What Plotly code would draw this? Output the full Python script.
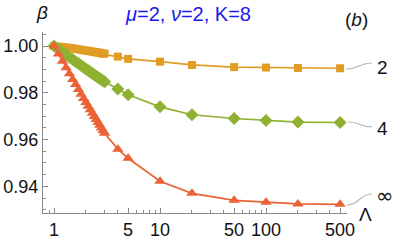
import plotly.graph_objects as go

# ---- data ----
lam_dense = [1.0, 1.1, 1.2, 1.3, 1.4, 1.5, 1.6, 1.7, 1.8, 1.9, 2.0,
             2.1, 2.2, 2.3, 2.4, 2.5, 2.6, 2.7, 2.8, 2.9, 3.0]
lam_sparse = [4, 5, 10, 20, 50, 100, 200, 500]
lam = lam_dense + lam_sparse

beta_2 = [1.0000, 0.9998, 0.9996, 0.9994, 0.9992, 0.9990, 0.9988, 0.9986, 0.9984, 0.9982, 0.9981,
          0.9979, 0.9978, 0.9976, 0.9975, 0.9973, 0.9972, 0.9971, 0.9969, 0.9968, 0.9967,
          0.9955, 0.9945, 0.9933, 0.9919, 0.9910, 0.9908, 0.9906, 0.9905]
beta_4 = [1.0000, 0.9986, 0.9974, 0.9963, 0.9952, 0.9942, 0.9933, 0.9925, 0.9917, 0.9909, 0.9902,
          0.9895, 0.9889, 0.9883, 0.9877, 0.9871, 0.9866, 0.9861, 0.9856, 0.9851, 0.9847,
          0.9816, 0.9792, 0.9740, 0.9706, 0.9690, 0.9682, 0.9675, 0.9673]
beta_inf = [1.0000, 0.9966, 0.9935, 0.9907, 0.9881, 0.9857, 0.9835, 0.9814, 0.9794, 0.9776, 0.9759,
            0.9743, 0.9728, 0.9713, 0.9699, 0.9686, 0.9673, 0.9661, 0.9649, 0.9638, 0.9627,
            0.9559, 0.9520, 0.9422, 0.9370, 0.9340, 0.9332, 0.9325, 0.9323]

x_ticks = [1, 5, 10, 50, 100, 500]
x_ticklabels = ["1", "5", "10", "50", "100", "500"]
y_ticks = [0.94, 0.96, 0.98, 1.00]
y_ticklabels = ["0.94", "0.96", "0.98", "1.00"]
series_labels = ["2", "4", "∞"]

# ---- styling ----
ORANGE = "#E19C24"
GREEN = "#8FB131"
RED = "#EB6235"
W, H = 407, 241
L, R, T, B = 43, 60, 32, 28
PW, PH = W - L - R, H - T - B
FONT = "Liberation Sans, Arial, sans-serif"
TXT = "#111"


def px(x):
    return (x - L) / PW


def py(y):
    return (H - B - y) / PH


fig = go.Figure()
for ys, col, sym, sz in [(beta_2, ORANGE, "square", 8),
                         (beta_4, GREEN, "diamond", 10),
                         (beta_inf, RED, "triangle-up", 10)]:
    fig.add_trace(go.Scatter(x=lam, y=ys, mode="lines+markers",
                             line=dict(color=col, width=1.7),
                             marker=dict(symbol=sym, size=sz, color=col, line=dict(width=0)),
                             cliponaxis=False, showlegend=False, hoverinfo="skip"))

minor_x = [0.8, 0.9, 2, 3, 4, 6, 7, 8, 9, 20, 30, 40, 60, 70, 80, 90, 200, 300, 400]
fig.update_xaxes(type="log", range=[-0.104, 2.764], showgrid=False, zeroline=False,
                 automargin=False,
                 showline=True, linecolor="#8a8a8a", linewidth=1,
                 ticks="inside", ticklen=5, tickcolor="#8a8a8a",
                 tickmode="array", tickvals=x_ticks, ticktext=x_ticklabels,
                 tickfont=dict(family=FONT, size=18, color=TXT),
                 minor=dict(tickmode="array", tickvals=minor_x, ticks="inside",
                            ticklen=3, tickcolor="#8a8a8a"))
fig.update_yaxes(range=[0.9286, 1.006], showgrid=False, zeroline=False,
                 automargin=False,
                 showline=True, linecolor="#8a8a8a", linewidth=1,
                 ticks="inside", ticklen=5, tickcolor="#8a8a8a",
                 tickmode="array", tickvals=y_ticks, ticktext=y_ticklabels,
                 tickfont=dict(family=FONT, size=18, color=TXT),
                 minor=dict(tickmode="array",
                            tickvals=[0.93, 0.935, 0.945, 0.95, 0.955, 0.965, 0.97, 0.975,
                                      0.985, 0.99, 0.995, 1.005],
                            ticks="inside", ticklen=3, tickcolor="#8a8a8a"))

ann = []


def text(x, y, s, size=18, color=TXT, family=FONT):
    ann.append(dict(x=px(x), y=py(y), xref="paper", yref="paper", text=s, showarrow=False,
                    xanchor="center", yanchor="middle",
                    font=dict(family=family, size=size, color=color)))


text(188, 14, "<i>μ</i>=2, <i>ν</i>=2, K=8", 20, "#1a1aee")
text(356, 20, "(<i>b</i>)", 19)
text(42, 13, "<i>β</i>", 19)
text(365, 214, "Λ", 19)
text(382, 67, series_labels[0], 19)
text(382, 128, series_labels[1], 19)
text(385, 196, series_labels[2], 21, TXT, "DejaVu Sans")

shapes = []
for (x0, y0, x1, y1) in [(346, 69, 372, 63), (348, 122, 372, 127), (347, 205, 372, 194)]:
    xm = (x0 + x1) / 2
    path = "M {:.4f},{:.4f} C {:.4f},{:.4f} {:.4f},{:.4f} {:.4f},{:.4f}".format(
        px(x0), py(y0), px(xm), py(y0), px(xm), py(y1), px(x1), py(y1))
    shapes.append(dict(type="path", path=path, xref="paper", yref="paper",
                       line=dict(color="#b5b5b5", width=1.2)))

fig.update_layout(width=W, height=H, margin=dict(l=L, r=R, t=T, b=B),
                  plot_bgcolor="white", paper_bgcolor="white",
                  annotations=ann, shapes=shapes, hovermode=False)
fig.write_html("out.html", config={"displayModeBar": False, "staticPlot": True},
               post_script="document.body.style.margin='0';document.body.style.padding='0';")
